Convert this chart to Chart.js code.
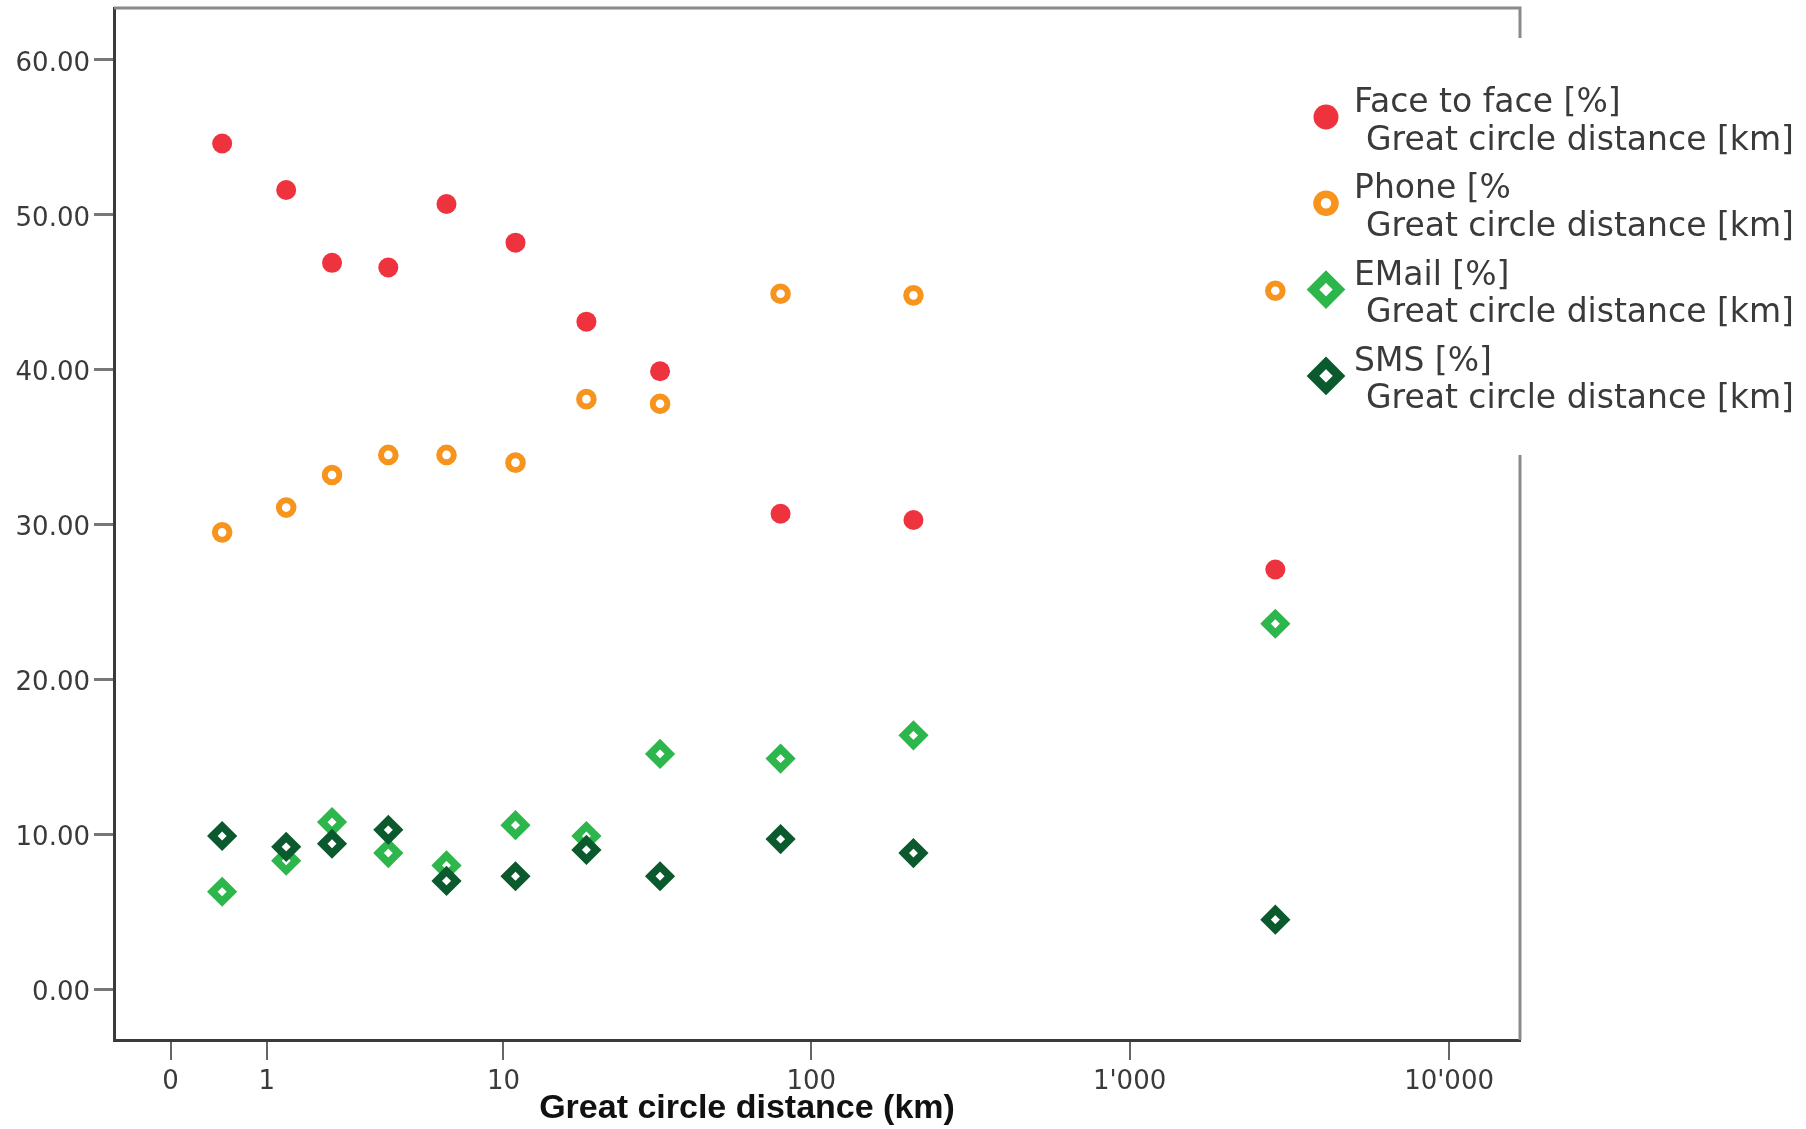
<!DOCTYPE html>
<html><head><meta charset="utf-8">
<script src="https://cdn.jsdelivr.net/npm/chart.js@4.4.1/dist/chart.umd.min.js"></script>
<style>html,body{margin:0;padding:0;background:#fff;}canvas{display:block;}</style>
</head><body>
<canvas id="c" width="1806" height="1129" style="width:1806px;height:1129px"></canvas>
<script>
// ---- data ----
const distanceKm = [0.45, 1.3, 2.2, 3.8, 6.3, 11, 19, 33, 80, 210, 2860];
const faceToFace = [54.6, 51.6, 46.9, 46.6, 50.7, 48.2, 43.1, 39.9, 30.7, 30.3, 27.1];
const phone      = [29.5, 31.1, 33.2, 34.5, 34.5, 34.0, 38.1, 37.8, 44.9, 44.8, 45.1];
const email      = [6.3, 8.3, 10.8, 8.8, 8.0, 10.6, 9.9, 15.2, 14.9, 16.4, 23.6];
const sms        = [9.9, 9.2, 9.4, 10.3, 7.0, 7.3, 9.0, 7.3, 9.7, 8.8, 4.5];
const xTickValues = [0, 1, 10, 100, 1000, 10000];
const xTickLabels = ['0', '1', '10', '100', "1'000", "10'000"];
const yTickValues = [0, 10, 20, 30, 40, 50, 60];
const seriesNames = ['Face to face [%]', 'Phone [%', 'EMail [%]', 'SMS [%]'];
const legendSubLine = 'Great circle distance [km]';
const xAxisTitle = 'Great circle distance (km)';

// x axis is log10(distance + 1)
const toX = d => Math.log10(d + 1);
const pts = vals => vals.map((v, i) => ({ x: toX(distanceKm[i]), y: v }));

const RED = '#EE323E', ORANGE = '#F7941D', LGREEN = '#2DB64B', DGREEN = '#0B5A2E';
const styles = [
  { pointStyle: 'circle', radius: 10, borderWidth: 0, bg: RED, border: RED, lr: 12.5, lw: 0 },
  { pointStyle: 'circle', radius: 7.3, borderWidth: 6, bg: '#fff', border: ORANGE, lr: 9, lw: 7.5 },
  { pointStyle: 'rectRot', radius: 9.8, borderWidth: 7.5, bg: '#fff', border: LGREEN, lr: 13, lw: 9 },
  { pointStyle: 'rectRot', radius: 9.8, borderWidth: 7.5, bg: '#fff', border: DGREEN, lr: 13, lw: 9 }
];
const seriesData = [faceToFace, phone, email, sms];
const drawOrder = [3, 2, 1, 0];

const datasets = seriesData.map((vals, i) => ({
  label: seriesNames[i],
  data: pts(vals),
  pointStyle: styles[i].pointStyle,
  pointRadius: styles[i].radius,
  pointHoverRadius: styles[i].radius,
  pointBorderWidth: styles[i].borderWidth,
  pointHoverBorderWidth: styles[i].borderWidth,
  pointBackgroundColor: styles[i].bg,
  pointBorderColor: styles[i].border,
  backgroundColor: styles[i].bg,
  borderColor: styles[i].border,
  showLine: false,
  order: drawOrder[i]
}));

const TICK_FONT = { family: 'DejaVu Sans', size: 26, weight: 'normal' };
const TEXT_COLOR = '#3a3a3a';

function drawMarker(ctx, st, x, y) {
  ctx.save();
  ctx.fillStyle = st.bg;
  ctx.strokeStyle = st.border;
  ctx.lineWidth = st.lw;
  const r = st.lr;
  ctx.beginPath();
  if (st.pointStyle === 'circle') {
    ctx.arc(x, y, r, 0, Math.PI * 2);
  } else {
    ctx.moveTo(x - r, y); ctx.lineTo(x, y - r); ctx.lineTo(x + r, y); ctx.lineTo(x, y + r); ctx.closePath();
  }
  ctx.fill();
  if (st.lw > 0) ctx.stroke();
  ctx.restore();
}

const decorPlugin = {
  id: 'decor',
  beforeDatasetsDraw(chart) {
    const { ctx, chartArea: a } = chart;
    ctx.save();
    ctx.strokeStyle = '#8a8a8a';
    ctx.lineWidth = 3;
    ctx.beginPath();
    ctx.moveTo(a.left, a.top);
    ctx.lineTo(a.right, a.top);
    ctx.lineTo(a.right, a.bottom);
    ctx.stroke();
    ctx.restore();
  },
  afterDraw(chart) {
    const { ctx } = chart;
    ctx.save();
    // legend box (white, overlapping the frame)
    ctx.fillStyle = '#fff';
    ctx.fillRect(1296, 38, 510, 417);
    ctx.font = 'normal 33px "DejaVu Sans"';
    ctx.textBaseline = 'middle';
    ctx.textAlign = 'left';
    for (let i = 0; i < seriesNames.length; i++) {
      const y1 = 103.5 + i * 86.3;
      drawMarker(ctx, styles[i], 1326, y1 + 13.5);
      ctx.fillStyle = TEXT_COLOR;
      ctx.fillText(seriesNames[i], 1354, y1);
      ctx.fillText(legendSubLine, 1366, y1 + 37.5);
    }
    // x axis title
    ctx.font = 'bold 34px "Liberation Sans"';
    ctx.fillStyle = '#111';
    ctx.textAlign = 'center';
    ctx.fillText(xAxisTitle, 747, 1109);
    ctx.restore();
  }
};

new Chart(document.getElementById('c'), {
  type: 'scatter',
  data: { datasets },
  options: {
    responsive: false,
    animation: false,
    devicePixelRatio: 1,
    events: [],
    layout: { autoPadding: false, padding: { left: 0, top: 8, right: 286, bottom: 0 } },
    plugins: { legend: { display: false }, tooltip: { enabled: false }, title: { display: false } },
    scales: {
      x: {
        type: 'linear',
        min: -0.177,
        max: 4.222,
        afterBuildTicks: s => { s.ticks = xTickValues.map(v => ({ value: toX(v) })); },
        afterFit: s => { s.height = 89; s.paddingLeft = 0; s.paddingRight = 0; },
        ticks: {
          callback: (v, i) => xTickLabels[i],
          font: TICK_FONT, color: TEXT_COLOR, padding: 7, maxRotation: 0, autoSkip: false
        },
        grid: { display: true, drawOnChartArea: false, drawTicks: true, tickLength: 20, color: '#666', lineWidth: 2 },
        border: { display: true, color: '#3a3a3a', width: 3 }
      },
      y: {
        type: 'linear',
        min: -3.27,
        max: 63.35,
        afterBuildTicks: s => { s.ticks = yTickValues.map(v => ({ value: v })); },
        afterFit: s => { s.width = 114; s.paddingTop = 0; s.paddingBottom = 0; },
        ticks: {
          callback: v => Number(v).toFixed(2),
          font: TICK_FONT, color: TEXT_COLOR, padding: 4, labelOffset: 4
        },
        grid: { display: true, drawOnChartArea: false, drawTicks: true, tickLength: 20, color: '#777', lineWidth: 3 },
        border: { display: true, color: '#3a3a3a', width: 3 }
      }
    }
  },
  plugins: [decorPlugin]
});
</script>
</body></html>
